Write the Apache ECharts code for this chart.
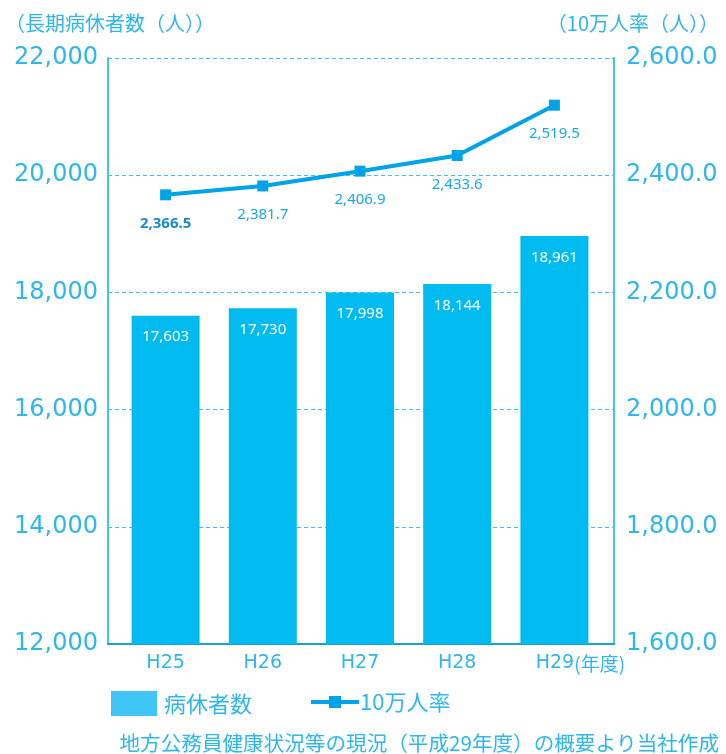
<!DOCTYPE html>
<html>
<head>
<meta charset="utf-8">
<script src="https://cdn.jsdelivr.net/npm/echarts@6/dist/echarts.min.js"></script>
<style>
html,body{margin:0;padding:0;background:#fff;}
#main{width:726px;height:754px;}
</style>
</head>
<body>
<div id="main"></div>
<script>
var category = ['H25', 'H26', 'H27', 'H28', 'H29'];
var sickData = [17603, 17730, 17998, 18144, 18961];
var rateData = [2366.5, 2381.7, 2406.9, 2433.6, 2519.5];
var leftTicks = [12000, 22000, 2000];
var rightTicks = [1600, 2600, 200];

var fontJp = '"Noto Sans CJK JP", "Noto Sans", sans-serif';
var fontNum = '"Noto Sans", "Open Sans", sans-serif';
var fontAxis = '"DejaVu Sans", sans-serif';
var blue = '#2db7ea';

function fmtInt(v){
	return String(v).replace(/\B(?=(\d{3})+(?!\d))/g, ',');
}
function fmtDec(v){
	var s = v.toFixed(1).split('.');
	return fmtInt(s[0]) + '.' + s[1];
}

var myChart = echarts.init(document.getElementById('main'));

option = {
	animation: false,
	textStyle: { fontFamily: fontJp },
	grid: [
		{ left: 108, right: 112, top: 58, bottom: 110 },
		{ left: 117, right: 123, top: 58, bottom: 110 }
	],
	title: [
		{ text: '（長期病休者数（人））', left: 0, top: 8,
		  textStyle: { color: blue, fontSize: 20, fontWeight: 'normal', fontFamily: fontJp } },
		{ text: '（10万人率（人））', right: 2, top: 8,
		  textStyle: { color: blue, fontSize: 20, fontWeight: 'normal', fontFamily: fontJp } },
		{ text: '地方公務員健康状況等の現況（平成29年度）の概要より当社作成', right: 2, top: 728,
		  textStyle: { color: blue, fontSize: 20.6, fontWeight: 'normal', fontFamily: fontJp } }
	],
	legend: [
		{
			data: ['病休者数'], left: 106, top: 686,
			itemWidth: 46, itemHeight: 25, icon: 'rect',
			itemStyle: { color: '#40c6f4' },
			textStyle: { color: blue, fontSize: 22, fontFamily: fontJp, padding: [0, 0, 0, 2] }
		},
		{
			data: ['10万人率'], left: 306, top: 686,
			itemWidth: 48, itemHeight: 25,
			icon: 'path://M0,4 L18,4 L18,0 L30,0 L30,4 L48,4 L48,8 L30,8 L30,12 L18,12 L18,8 L0,8 Z',
			itemStyle: { color: '#00a3e8' },
			textStyle: { color: blue, fontSize: 22, fontFamily: fontJp, padding: [0, 0, 0, -4] }
		}
	],
	xAxis: [
		{
			type: 'category', gridIndex: 0, data: category,
			axisLine: { lineStyle: { color: '#1d9fd6', width: 2 } },
			axisTick: { show: false }, axisLabel: { show: false }
		},
		{
			type: 'category', gridIndex: 1, data: category,
			axisLine: { show: false }, axisTick: { show: false },
			axisLabel: {
				interval: 0,
				color: blue, fontSize: 19, margin: 10, fontFamily: fontAxis,
				formatter: function (v, i) {
					return i == 4 ? '{a|' + v + '}{s|(年度)}' : v;
				},
				rich: {
					a: { color: blue, fontSize: 19, fontFamily: fontAxis, padding: [0, 0, 0, 52] },
					s: { color: blue, fontSize: 19, fontFamily: fontJp }
				}
			}
		}
	],
	yAxis: [
		{
			type: 'value', gridIndex: 0, position: 'left',
			min: leftTicks[0], max: leftTicks[1], interval: leftTicks[2],
			axisLine: { show: true, lineStyle: { color: '#45c3ef', width: 2 } },
			axisTick: { show: false },
			splitLine: { lineStyle: { color: '#3fc0ee', type: [4, 3] } },
			axisLabel: { color: blue, fontSize: 24, margin: 10, fontFamily: fontAxis, formatter: fmtInt }
		},
		{
			type: 'value', gridIndex: 0, position: 'right',
			min: rightTicks[0], max: rightTicks[1], interval: rightTicks[2],
			axisLine: { show: true, lineStyle: { color: '#45c3ef', width: 2 } },
			axisTick: { show: false }, splitLine: { show: false },
			axisLabel: { color: blue, fontSize: 24, margin: 12, fontFamily: fontAxis, formatter: fmtDec }
		},
		{
			type: 'value', gridIndex: 1, show: false,
			min: leftTicks[0], max: leftTicks[1], interval: leftTicks[2]
		},
		{
			type: 'value', gridIndex: 1, show: false,
			min: rightTicks[0], max: rightTicks[1], interval: rightTicks[2]
		}
	],
	series: [
		{
			name: '病休者数', type: 'bar',
			xAxisIndex: 1, yAxisIndex: 2,
			barWidth: 68,
			itemStyle: { color: '#00bbf0' },
			label: {
				show: true, position: 'insideTop', distance: 14,
				color: '#fff', fontSize: 15, fontFamily: fontNum,
				formatter: function (p) { return fmtInt(p.value); }
			},
			data: sickData
		},
		{
			name: '10万人率', type: 'line',
			xAxisIndex: 1, yAxisIndex: 3,
			symbol: 'rect', symbolSize: 11,
			lineStyle: { color: '#00a3e8', width: 4 },
			itemStyle: { color: '#00a3e8' },
			label: {
				show: true, position: 'bottom', distance: 16,
				color: '#1aa8e2', fontSize: 15, fontFamily: fontNum,
				formatter: function (p) { return fmtDec(p.value); }
			},
			data: rateData.map(function (v, i) {
				return i == 0 ? { value: v, label: { color: '#1a8cc6', fontWeight: 'bold' } } : v;
			})
		}
	]
};

myChart.setOption(option);
</script>
</body>
</html>
